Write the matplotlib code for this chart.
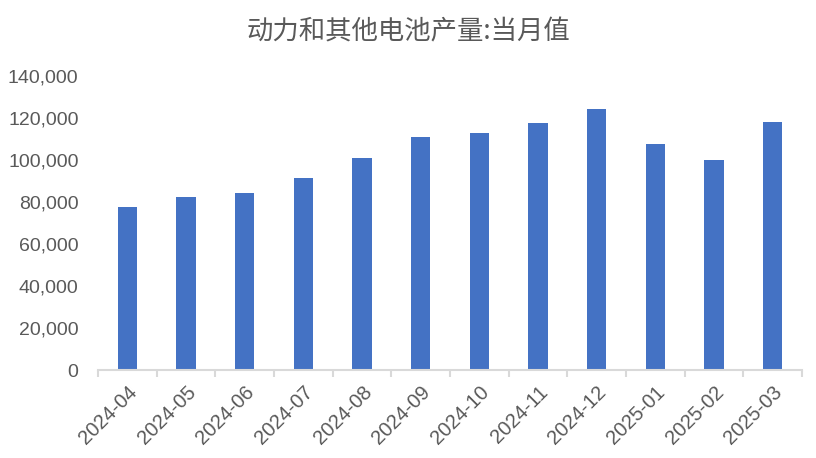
import matplotlib.pyplot as plt
import numpy as np
from matplotlib.ticker import FuncFormatter

months = ['2024-04', '2024-05', '2024-06', '2024-07', '2024-08', '2024-09',
          '2024-10', '2024-11', '2024-12', '2025-01', '2025-02', '2025-03']
output = [77600, 82400, 84300, 91400, 101000, 111000,
          112900, 117600, 124300, 107600, 100000, 118100]
title = '动力和其他电池产量:当月值'

plt.rcParams['font.family'] = ['Liberation Sans', 'Noto Sans CJK SC', 'DejaVu Sans']

fig = plt.figure(figsize=(8.16, 4.58), dpi=100)
ax = fig.add_axes([0.1201, 0.192, 0.8627, 0.642])

x = np.arange(len(months))
ax.bar(x, output, width=0.33, color='#4472C4', zorder=2)

ax.set_xlim(-0.5, len(months) - 0.5)
ax.set_ylim(0, 140000)
ax.set_yticks(np.arange(0, 140001, 20000))
ax.yaxis.set_major_formatter(FuncFormatter(lambda v, p: f'{int(v):,}'))

ax.set_xticks(x)
ax.set_xticklabels(months, rotation=45, ha='right', rotation_mode='anchor')
ax.set_xticks(np.arange(-0.5, len(months), 1), minor=True)
ax.tick_params(axis='x', which='major', length=0, pad=9, labelsize=14.5, labelcolor='#595959')
ax.tick_params(axis='x', which='minor', length=5, width=1.5, color='#d9d9d9')
ax.tick_params(axis='y', length=0, pad=14, labelsize=14, labelcolor='#595959')

for side in ['top', 'right', 'left']:
    ax.spines[side].set_visible(False)
ax.spines['bottom'].set_color('#d9d9d9')
ax.spines['bottom'].set_linewidth(1.5)

fig.text(0.5, 0.93, title, ha='center', va='center', fontsize=19,
         color='#595959', family=['Noto Sans CJK SC', 'DejaVu Sans'])

fig.savefig('out.png', dpi=100)
